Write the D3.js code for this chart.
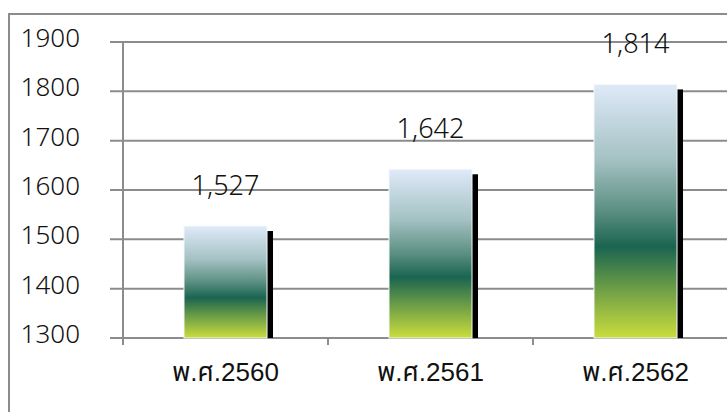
<!DOCTYPE html>
<html>
<head>
<meta charset="utf-8">
<script src="https://d3js.org/d3.v7.min.js"></script>
<style>
  body { margin: 0; background: #fff; }
  text { font-family: "Noto Sans", "Noto Sans Thai", "DejaVu Sans", sans-serif; }
</style>
</head>
<body>
<script>
const categories = ["พ.ศ.2560", "พ.ศ.2561", "พ.ศ.2562"];
const values = [1527, 1642, 1814];
const yTicks = [1300, 1400, 1500, 1600, 1700, 1800, 1900];

const w = 727, h = 412;
const plotLeft = 123, plotRight = 738, plotTop = 42, plotBottom = 338;

const svg = d3.select("body").append("svg")
    .attr("width", w)
    .attr("height", h);

// outer frame (cropped on the right and bottom)
svg.append("rect")
    .attr("x", 9).attr("y", 14)
    .attr("width", 740).attr("height", 420)
    .attr("fill", "none")
    .attr("stroke", "#8c8c8c")
    .attr("stroke-width", 2);

const defs = svg.append("defs");
const grad = defs.append("linearGradient")
    .attr("id", "barGrad")
    .attr("x1", 0).attr("y1", 0).attr("x2", 0).attr("y2", 1);
[
  [0, "#dfeaf9"],
  [0.3, "#a3c1c2"],
  [0.5, "#5b8f81"],
  [0.64, "#1a6450"],
  [0.8, "#6a9c47"],
  [1, "#cadd3c"]
].forEach(s => grad.append("stop").attr("offset", s[0]).attr("stop-color", s[1]));

const y = d3.scaleLinear().domain([1300, 1900]).range([plotBottom, plotTop]);
const x = d3.scaleBand().domain(categories).range([plotLeft, plotRight])
    .paddingInner(0.595).paddingOuter(0.2975);

// gridlines + y ticks (ticks extend left of the axis)
svg.append("g")
    .selectAll("line")
    .data(yTicks)
    .join("line")
    .attr("x1", 110).attr("x2", plotRight)
    .attr("y1", d => y(d)).attr("y2", d => y(d))
    .attr("stroke", "#8c8c8c")
    .attr("stroke-width", 2);

// y labels
svg.append("g")
    .selectAll("text")
    .data(yTicks)
    .join("text")
    .attr("x", 80)
    .attr("y", d => y(d) + 5)
    .attr("text-anchor", "end")
    .attr("font-size", 26)
    .attr("font-weight", 300)
    .attr("fill", "#111")
    .text(d => d);

// y axis line
svg.append("line")
    .attr("x1", plotLeft).attr("x2", plotLeft)
    .attr("y1", plotTop).attr("y2", plotBottom + 7)
    .attr("stroke", "#8c8c8c")
    .attr("stroke-width", 2);

// x ticks at band boundaries
const step = x.step();
svg.append("g")
    .selectAll("line")
    .data(categories.slice(1))
    .join("line")
    .attr("x1", d => x(d) - step * x.paddingInner() / 2)
    .attr("x2", d => x(d) - step * x.paddingInner() / 2)
    .attr("y1", plotBottom).attr("y2", plotBottom + 7)
    .attr("stroke", "#8c8c8c")
    .attr("stroke-width", 2);

const bars = svg.append("g")
    .selectAll("g")
    .data(values)
    .join("g");

// shadow
bars.append("rect")
    .attr("x", (d, i) => x(categories[i]) + x.bandwidth())
    .attr("y", d => y(d) + 5)
    .attr("width", 6)
    .attr("height", d => plotBottom - y(d) - 5)
    .attr("fill", "#000");

bars.append("rect")
    .attr("x", (d, i) => x(categories[i]))
    .attr("y", d => y(d))
    .attr("width", x.bandwidth())
    .attr("height", d => plotBottom - y(d))
    .attr("fill", "url(#barGrad)")
    .attr("stroke", "#f4f7fb")
    .attr("stroke-width", 1);

// value labels
bars.append("text")
    .attr("x", (d, i) => x(categories[i]) + x.bandwidth() / 2)
    .attr("y", d => y(d) - 31)
    .attr("text-anchor", "middle")
    .attr("font-size", 27)
    .attr("font-weight", 300)
    .attr("fill", "#111")
    .text(d => d3.format(",")(d));

// category labels
svg.append("g")
    .selectAll("text")
    .data(categories)
    .join("text")
    .attr("x", d => x(d) + x.bandwidth() / 2)
    .attr("y", 381)
    .attr("text-anchor", "middle")
    .attr("font-size", 26)
    .attr("fill", "#111")
    .style("font-family", "'Liberation Sans', Arial, 'Noto Sans Thai', sans-serif")
    .text(d => d);
</script>
</body>
</html>
